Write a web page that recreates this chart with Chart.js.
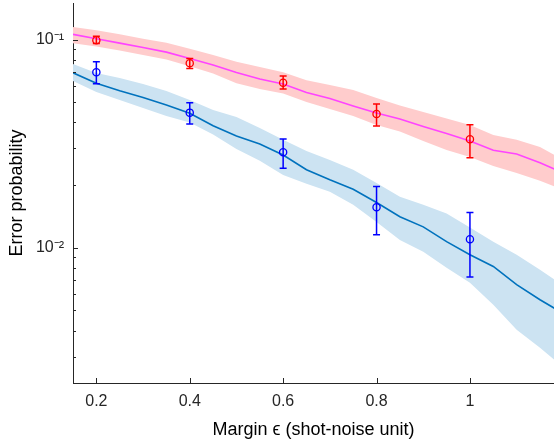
<!DOCTYPE html>
<html><head><meta charset="utf-8">
<script src="https://cdn.jsdelivr.net/npm/chart.js@4.4.0/dist/chart.umd.min.js"></script>
<style>html,body{margin:0;padding:0;background:#fff;overflow:hidden}</style>
</head><body>
<canvas id="c" width="554" height="442"></canvas>
<script>
// ---- data ----
const eps      = [0.15,0.20,0.25,0.30,0.35,0.40,0.45,0.50,0.55,0.60,0.65,0.70,0.75,0.80,0.85,0.90,0.95,1.00,1.05,1.10,1.15,1.20];
const pinkMid  = [0.106,0.101,0.0962,0.0916,0.0871,0.0811,0.0755,0.0695,0.0647,0.0612,0.0557,0.0521,0.0480,0.0444,0.0416,0.0383,0.0354,0.0326,0.0294,0.0282,0.0256,0.0229];
const pinkHigh = [0.115,0.111,0.1063,0.1011,0.0967,0.0905,0.0843,0.0784,0.0738,0.0698,0.0639,0.0605,0.0573,0.0524,0.0483,0.0449,0.0418,0.0389,0.0348,0.0330,0.0305,0.0264];
const pinkLow  = [0.0962,0.0926,0.0886,0.0843,0.0802,0.0746,0.0687,0.0618,0.0579,0.0551,0.0501,0.0464,0.0430,0.0389,0.0362,0.0326,0.0295,0.0273,0.0247,0.0229,0.0210,0.0190];
const blueMid  = [0.0693,0.0617,0.0568,0.0527,0.0485,0.0443,0.0386,0.0344,0.0315,0.0279,0.0237,0.0212,0.0191,0.0165,0.0141,0.0126,0.0107,0.00926,0.00813,0.00665,0.00563,0.00483];
const blueHigh = [0.0763,0.0691,0.0654,0.0612,0.0566,0.0513,0.0459,0.0425,0.0376,0.0330,0.0292,0.0264,0.0237,0.0205,0.0176,0.0161,0.0146,0.0125,0.0107,0.00926,0.00784,0.00657];
const blueLow  = [0.0632,0.0560,0.0513,0.0469,0.0430,0.0400,0.0350,0.0298,0.0262,0.0224,0.0203,0.0186,0.0161,0.0133,0.0109,0.00957,0.00802,0.00679,0.00533,0.00404,0.00331,0.00266];

const markerEps  = [0.2,0.4,0.6,0.8,1.0];
const redVal     = [0.0994,0.0771,0.0621,0.0439,0.0332];
const redHigh    = [0.1039,0.0811,0.0668,0.0491,0.0390];
const redLow     = [0.0957,0.0726,0.0579,0.0385,0.0271];
const bluePtVal  = [0.0697,0.0446,0.0288,0.01567,0.0110];
const bluePtHigh = [0.0782,0.0498,0.0333,0.0197,0.01477];
const bluePtLow  = [0.0614,0.0393,0.0241,0.01154,0.00724];

const xTickValues = [0.2,0.4,0.6,0.8,1.0];
const xTickLabels = ['0.2','0.4','0.6','0.8','1'];
const yTickValues = [0.01,0.1];
const yTickLabels = ['10\u207B\u00B2','10\u207B\u00B9'];
const yMinorTicks = [0.003,0.004,0.005,0.006,0.007,0.008,0.009,0.02,0.03,0.04,0.05,0.06,0.07,0.08,0.09];

// ---- build ----
const pts = (xs, ys) => xs.map((v,i)=>({x:v,y:ys[i]}));
const AX = '#262626';
Chart.defaults.font.family = '"Liberation Sans", Arial, Helvetica, sans-serif';

const errorBars = {
  id:'errorBars',
  afterDatasetsDraw(chart){
    const {ctx, scales:{x,y}} = chart;
    const draw = (vals, lo, hi, color) => {
      ctx.save(); ctx.strokeStyle = color; ctx.lineWidth = 1.5; ctx.beginPath();
      markerEps.forEach((e,i)=>{
        const px = x.getPixelForValue(e);
        const p1 = y.getPixelForValue(lo[i]), p2 = y.getPixelForValue(hi[i]);
        ctx.moveTo(px,p1); ctx.lineTo(px,p2);
        ctx.moveTo(px-3.5,p1); ctx.lineTo(px+3.5,p1);
        ctx.moveTo(px-3.5,p2); ctx.lineTo(px+3.5,p2);
      });
      ctx.stroke(); ctx.restore();
    };
    draw(redVal, redLow, redHigh, '#ff0000');
    draw(bluePtVal, bluePtLow, bluePtHigh, '#0000ff');
  }
};

const inwardTicks = {
  id:'inwardTicks',
  afterDraw(chart){
    const {ctx, chartArea:a, scales:{x,y}} = chart;
    ctx.save(); ctx.strokeStyle = AX; ctx.lineWidth = 1; ctx.beginPath();
    xTickValues.forEach(v=>{const px=Math.round(x.getPixelForValue(v))+0.5; ctx.moveTo(px,a.bottom); ctx.lineTo(px,a.bottom-5);});
    yTickValues.forEach(v=>{const py=Math.round(y.getPixelForValue(v))+0.5; ctx.moveTo(a.left,py); ctx.lineTo(a.left+5,py);});
    yMinorTicks.forEach(v=>{const py=Math.round(y.getPixelForValue(v))+0.5; if(py>=a.top&&py<=a.bottom){ctx.moveTo(a.left,py); ctx.lineTo(a.left+3,py);}});
    ctx.stroke(); ctx.restore();
  }
};

const band = (data, color, fill) => ({data, borderWidth:0, pointRadius:0, backgroundColor:color, fill, order:5, tension:0});

new Chart(document.getElementById('c'), {
  type:'line',
  data:{datasets:[
    band(pts(eps,pinkHigh), '#ffcccc', '+1'),
    band(pts(eps,pinkLow), '#ffcccc', false),
    band(pts(eps,blueHigh), '#cce3f2', '+1'),
    band(pts(eps,blueLow), '#cce3f2', false),
    {data:pts(eps,pinkMid), borderColor:'#ff44ff', borderWidth:1.6, pointRadius:0, fill:false, order:3, tension:0},
    {data:pts(eps,blueMid), borderColor:'#0072bd', borderWidth:1.6, pointRadius:0, fill:false, order:3, tension:0},
    {data:pts(markerEps,redVal), showLine:false, pointStyle:'circle', pointRadius:3.6, borderColor:'#ff0000', backgroundColor:'rgba(0,0,0,0)', borderWidth:1.3, order:1},
    {data:pts(markerEps,bluePtVal), showLine:false, pointStyle:'circle', pointRadius:3.6, borderColor:'#0000ff', backgroundColor:'rgba(0,0,0,0)', borderWidth:1.3, order:1}
  ]},
  options:{
    responsive:false, animation:false, devicePixelRatio:1,
    layout:{autoPadding:false, padding:{top:3,left:0,right:0,bottom:0}},
    plugins:{legend:{display:false}, title:{display:false}, tooltip:{enabled:false}},
    scales:{
      x:{type:'linear', min:0.15, max:1.18,
        afterBuildTicks:s=>{s.ticks = xTickValues.map(v=>({value:v}));},
        afterFit:s=>{s.height = 59; s.paddingLeft = 0; s.paddingRight = 0; s.paddingTop = 0; s.paddingBottom = 0;},
        grid:{display:false, drawTicks:false},
        border:{display:true, color:AX, width:1},
        ticks:{callback:(v,i)=>xTickLabels[i], color:AX, font:{size:16}, padding:9, maxRotation:0, autoSkip:false},
        title:{display:true, text:'Margin \u03F5 (shot-noise unit)', color:'#000', font:{size:18}, padding:{top:0,bottom:1}}
      },
      y:{type:'logarithmic', min:0.00224, max:0.15,
        afterBuildTicks:s=>{s.ticks = yTickValues.map(v=>({value:v}));},
        afterFit:s=>{s.width = 73; s.paddingLeft = 0; s.paddingRight = 0; s.paddingTop = 0; s.paddingBottom = 0;},
        grid:{display:false, drawTicks:false},
        border:{display:true, color:AX, width:1},
        ticks:{callback:(v,i)=>yTickLabels[i], color:AX, font:{size:16}, padding:9, autoSkip:false},
        title:{display:true, text:'Error probability', color:'#000', font:{size:18}, padding:{top:6,bottom:0}}
      }
    }
  },
  plugins:[errorBars, inwardTicks]
});
</script>
</body></html>
